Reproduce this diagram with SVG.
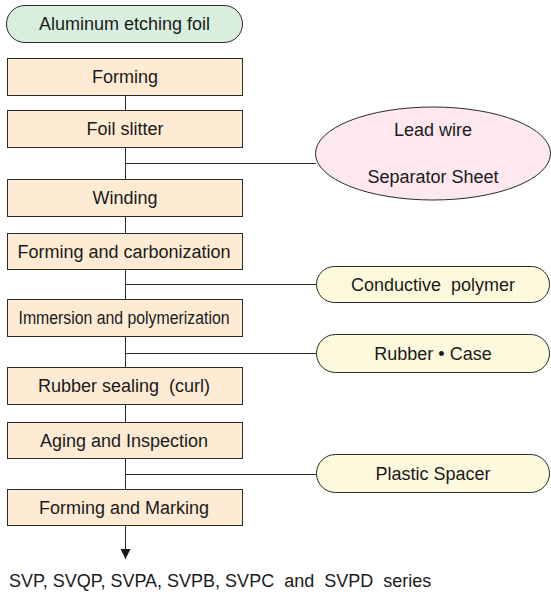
<svg xmlns="http://www.w3.org/2000/svg" width="551" height="597" viewBox="0 0 551 597" xml:space="preserve">
  <defs>
    <style>
      .box { fill: #fdebd4; stroke: #2a2a2a; stroke-width: 1; }
      .start { fill: #d9efdd; stroke: #2a2a2a; stroke-width: 1; }
      .mat { fill: #fdf9dc; stroke: #2a2a2a; stroke-width: 1; }
      .oval { fill: #fde8ef; stroke: #2a2a2a; stroke-width: 1; }
      text { white-space: pre; }
      .lbl { font-family: "Liberation Sans", Arial, sans-serif; font-size: 18px; fill: #1a1a1a; text-anchor: middle; }
      .foot { font-family: "Liberation Sans", Arial, sans-serif; font-size: 18px; fill: #1a1a1a; }
      .wire { stroke: #2a2a2a; stroke-width: 1; fill: none; }
    </style>
    <marker id="arrow" viewBox="0 0 10 10" refX="10" refY="5" markerWidth="10" markerHeight="10" markerUnits="userSpaceOnUse" orient="auto">
      <path d="M0,0 L10,5 L0,10 Z" fill="#1a1a1a"/>
    </marker>
  </defs>

  <!-- connectors -->
  <g id="connectors">
    <line class="wire" x1="125.5" y1="96" x2="125.5" y2="110"/>
    <line class="wire" x1="125.5" y1="148" x2="125.5" y2="179"/>
    <line class="wire" x1="125.5" y1="163.5" x2="316" y2="163.5"/>
    <line class="wire" x1="125.5" y1="217" x2="125.5" y2="233"/>
    <line class="wire" x1="125.5" y1="270" x2="125.5" y2="299"/>
    <line class="wire" x1="125.5" y1="284.5" x2="316" y2="284.5"/>
    <line class="wire" x1="125.5" y1="337" x2="125.5" y2="367"/>
    <line class="wire" x1="125.5" y1="353.5" x2="316" y2="353.5"/>
    <line class="wire" x1="125.5" y1="405" x2="125.5" y2="422"/>
    <line class="wire" x1="125.5" y1="459" x2="125.5" y2="489"/>
    <line class="wire" x1="125.5" y1="474.5" x2="316" y2="474.5"/>
    <line class="wire" x1="125.5" y1="526" x2="125.5" y2="559" marker-end="url(#arrow)"/>
  </g>

  <!-- process steps -->
  <g id="aluminum-foil">
    <rect class="start" x="6.5" y="5.5" width="236" height="37" rx="18.5"/>
    <text class="lbl" x="124.5" y="30">Aluminum etching foil</text>
  </g>
  <g id="forming">
    <rect class="box" x="7.5" y="58.5" width="235" height="37"/>
    <text class="lbl" x="125" y="83">Forming</text>
  </g>
  <g id="foil-slitter">
    <rect class="box" x="7.5" y="110.5" width="235" height="37"/>
    <text class="lbl" x="125" y="135">Foil slitter</text>
  </g>
  <g id="winding">
    <rect class="box" x="7.5" y="179.5" width="235" height="37"/>
    <text class="lbl" x="125" y="204">Winding</text>
  </g>
  <g id="carbonization">
    <rect class="box" x="7.5" y="233.5" width="235" height="36"/>
    <text class="lbl" x="124" y="258">Forming and carbonization</text>
  </g>
  <g id="polymerization">
    <rect class="box" x="7.5" y="299.5" width="235" height="37"/>
    <text class="lbl" x="124" y="324" textLength="211" lengthAdjust="spacingAndGlyphs">Immersion and polymerization</text>
  </g>
  <g id="rubber-sealing">
    <rect class="box" x="7.5" y="367.5" width="235" height="37"/>
    <text class="lbl" x="124" y="392">Rubber sealing  (curl)</text>
  </g>
  <g id="aging">
    <rect class="box" x="7.5" y="422.5" width="235" height="36"/>
    <text class="lbl" x="124" y="447">Aging and Inspection</text>
  </g>
  <g id="marking">
    <rect class="box" x="7.5" y="489.5" width="235" height="36"/>
    <text class="lbl" x="124" y="514">Forming and Marking</text>
  </g>

  <!-- materials fed in -->
  <g id="lead-separator">
    <ellipse class="oval" cx="433" cy="153.5" rx="117.5" ry="46.5"/>
    <text class="lbl" x="433" y="136">Lead wire</text>
    <text class="lbl" x="433" y="183">Separator Sheet</text>
  </g>
  <g id="conductive-polymer">
    <rect class="mat" x="316.5" y="266.5" width="233" height="36" rx="18"/>
    <text class="lbl" x="433" y="291">Conductive  polymer</text>
  </g>
  <g id="rubber-case">
    <rect class="mat" x="316.5" y="334.5" width="233" height="38" rx="19"/>
    <text class="lbl" x="433" y="360">Rubber • Case</text>
  </g>
  <g id="plastic-spacer">
    <rect class="mat" x="316.5" y="454.5" width="233" height="38" rx="19"/>
    <text class="lbl" x="433" y="480">Plastic Spacer</text>
  </g>

  <!-- output -->
  <g id="series">
    <text class="foot" x="9" y="587">SVP, SVQP, SVPA, SVPB, SVPC  and  SVPD  series</text>
  </g>
</svg>
